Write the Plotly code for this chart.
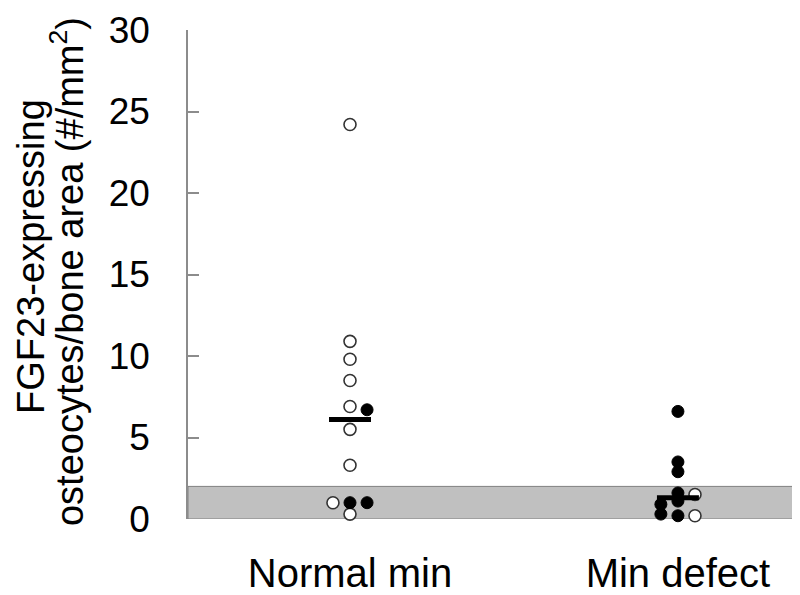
import numpy as np
import plotly.graph_objects as go

# ------------------- Datos -------------------
grupos = ['Normal min', 'Min defect']
pos_grupos = [1, 2]

# Normal min
normal_abiertos = [24.2, 10.9, 9.8, 8.5, 6.9, 5.5, 3.3, 0.3, 1.0]
normal_abiertos_col = [0, 0, 0, 0, 0, 0, 0, 0, -1]
normal_llenos = [6.7, 1.0, 1.0]
normal_llenos_col = [1, 1, 0]

# Min defect
defecto_abiertos = [1.5, 0.2]
defecto_abiertos_col = [1, 1]
defecto_llenos = [6.6, 3.5, 2.9, 1.6, 1.1, 0.2, 0.9, 0.3]
defecto_llenos_col = [0, 0, 0, 0, 0, 0, -1, -1]

banda_normal = [0, 2]
y_ticks = [0, 5, 10, 15, 20, 25, 30]
titulo_y = ['FGF23-expressing', 'osteocytes/bone area (#/mm<sup>2</sup>)']

# ------------------- Figura -------------------
paso = 0.052  # separacion entre columnas de puntos
fig = go.Figure()

fig.add_shape(type='rect', xref='paper', yref='y', x0=0, x1=1, y0=banda_normal[0], y1=banda_normal[1],
              fillcolor='#c0c0c0', line=dict(color='#808080', width=1), layer='below')

def columnas(centro, cols):
    return [centro + c*paso for c in cols]

abierto = dict(color='white', size=12, line=dict(color='#333333', width=1.6))
lleno = dict(color='black', size=12, line=dict(color='black', width=1))

fig.add_trace(go.Scatter(x=columnas(pos_grupos[0], normal_abiertos_col), y=normal_abiertos, mode='markers',
                         marker=abierto, cliponaxis=False, showlegend=False))
fig.add_trace(go.Scatter(x=columnas(pos_grupos[0], normal_llenos_col), y=normal_llenos, mode='markers',
                         marker=lleno, cliponaxis=False, showlegend=False))
fig.add_trace(go.Scatter(x=columnas(pos_grupos[1], defecto_abiertos_col), y=defecto_abiertos, mode='markers',
                         marker=abierto, cliponaxis=False, showlegend=False))
fig.add_trace(go.Scatter(x=columnas(pos_grupos[1], defecto_llenos_col), y=defecto_llenos, mode='markers',
                         marker=lleno, cliponaxis=False, showlegend=False))

# Medianas
for centro, valores in zip(pos_grupos, [normal_abiertos + normal_llenos, defecto_abiertos + defecto_llenos]):
    m = float(np.median(valores))
    fig.add_trace(go.Scatter(x=[centro - 0.064, centro + 0.064], y=[m, m], mode='lines',
                             line=dict(color='black', width=5), cliponaxis=False, showlegend=False))

# Titulo del eje y en dos renglones (interlineado mas cerrado que el de plotly)
for texto, yy, dx in zip(titulo_y, [0.536, 0.505], [-157, -121]):
    fig.add_annotation(text=texto, textangle=-90, xref='paper', yref='paper', x=0, y=yy,
                       xanchor='center', yanchor='middle', xshift=dx, showarrow=False,
                       font=dict(size=38))

fig.update_layout(
    width=800, height=595,
    margin=dict(l=180, r=13, t=22, b=84),
    plot_bgcolor='white', paper_bgcolor='white',
    font=dict(family='Liberation Sans, Arial', size=36, color='black'),
)
fig.update_xaxes(range=[0.506, 2.357], tickvals=pos_grupos, ticktext=grupos, showgrid=False,
                 zeroline=False, showline=False, ticks='', ticklabelstandoff=27,
                 tickfont=dict(size=40), automargin=False)
fig.update_yaxes(range=[0, 30], tickvals=y_ticks, showgrid=False, zeroline=False,
                 showline=True, linecolor='#8c8c8c', linewidth=1.5,
                 ticks='inside', ticklen=11, tickcolor='#8c8c8c', tickwidth=1.5,
                 ticklabelstandoff=29, tickfont=dict(size=37), automargin=False)

fig.write_html('out.html')
